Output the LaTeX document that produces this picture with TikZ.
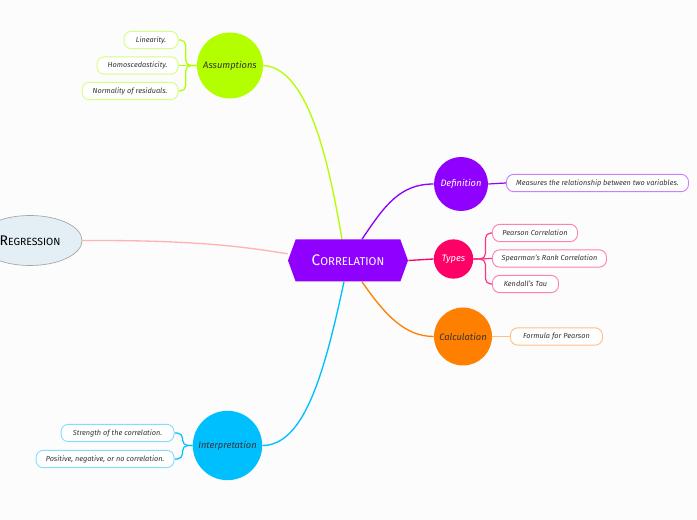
\documentclass[tikz,border=0pt]{standalone}
\usepackage{fontspec}
\setmainfont{Fira Sans}
\usetikzlibrary{shapes.symbols,shapes.geometric}
\definecolor{bgc}{HTML}{FCFCFC}
\definecolor{lime}{HTML}{B3FF00}
\definecolor{limel}{HTML}{D4FF80}
\definecolor{purp}{HTML}{8F00FF}
\definecolor{purpl}{HTML}{C880FF}
\definecolor{pinkr}{HTML}{FF0066}
\definecolor{pinkl}{HTML}{FF80B3}
\definecolor{orng}{HTML}{FF8000}
\definecolor{orngl}{HTML}{FFC080}
\definecolor{sky}{HTML}{00BFFF}
\definecolor{skyl}{HTML}{80DFFF}
\definecolor{regf}{HTML}{E3EFF5}
\definecolor{regl}{HTML}{FFB3B3}
\definecolor{txt}{HTML}{333333}
\pgfdeclarelayer{bgl}
\pgfdeclarelayer{background}
\pgfsetlayers{bgl,background,main}
\begin{document}
\begin{tikzpicture}[x=0.75pt,y=-0.75pt,
  topic/.style={circle,inner sep=0pt,font=\fontsize{7}{7.5}\selectfont\itshape},
  leaf/.style={draw,fill=white,rounded corners=5.5pt,line width=0.7pt,minimum height=13pt,inner sep=1pt,font=\fontsize{5.5}{6}\selectfont\itshape,text=txt},
  link/.style={line width=1pt},
  brk/.style={line width=0.9pt,rounded corners=4pt}]
\begin{pgfonlayer}{bgl}
\fill[bgc] (0,0) rectangle (697,520);
\end{pgfonlayer}
\useasboundingbox (0,0) rectangle (697,520);

% central
\node[signal,signal to=west and east,signal pointer angle=140,fill=purp,minimum width=90pt,minimum height=31.5pt,inner sep=0pt,text=white] (corr) at (348,260.5)
  {\fontsize{11.5}{12}\selectfont C\fontsize{8.5}{9}\selectfont ORRELATION};

% regression
\node[ellipse,draw=gray!70,line width=0.5pt,fill=regf,minimum width=78pt,minimum height=37.5pt,inner sep=0pt] (reg) at (30,240.5)
  {\fontsize{10.5}{11}\selectfont R\fontsize{7.8}{8}\selectfont EGRESSION};

% topics
\node[topic,fill=lime,minimum size=49.5pt,text=txt] (asm) at (230,65.5) {Assumptions};
\node[topic,fill=purp,minimum size=40.5pt,text=white] (def) at (461,184) {Definition};
\node[topic,fill=pinkr,minimum size=29.5pt,text=white] (typ) at (453.5,259) {Types};
\node[topic,fill=orng,minimum size=43.5pt,text=txt] (calc) at (463,336.5) {Calculation};
\node[topic,fill=sky,minimum size=52pt,text=txt] (intp) at (227.5,445.5) {Interpretation};

% leaves
\node[leaf,draw=limel,anchor=east,minimum width=40.5pt] (lin) at (178.5,40) {Linearity.};
\node[leaf,draw=limel,anchor=east,minimum width=60.75pt] (hom) at (178.5,65.5) {Homoscedasticity.};
\node[leaf,draw=limel,anchor=east,minimum width=72pt] (nor) at (178.5,91) {Normality of residuals.};
\node[leaf,draw=purpl,anchor=west,minimum width=136.5pt] (defc) at (506,183) {Measures the relationship between two variables.};
\node[leaf,draw=pinkl,anchor=west,minimum width=63.75pt] (pear) at (492,233) {Pearson Correlation};
\node[leaf,draw=pinkl,anchor=west,minimum width=85.5pt] (spear) at (492,258.5) {Spearman's Rank Correlation};
\node[leaf,draw=pinkl,anchor=west,minimum width=49.5pt] (kend) at (492,284) {Kendall's Tau};
\node[leaf,draw=orngl,anchor=west,minimum width=69pt] (form) at (510,336.5) {Formula for Pearson};
\node[leaf,draw=skyl,anchor=east,minimum width=84.75pt] (str) at (174.5,433) {Strength of the correlation.};
\node[leaf,draw=skyl,anchor=east,minimum width=103.5pt] (pos) at (174.5,459) {Positive, negative, or no correlation.};

\begin{pgfonlayer}{background}
% main connectors
\draw[link,color=regl] (reg.east) .. controls (190,240) and (240,246) .. ([yshift=5pt]corr.west);
\draw[link,color=lime] ([xshift=-4.5pt]corr.north) .. controls (330,170) and (310,68) .. (asm.east);
\draw[link,color=purp] ([xshift=10.5pt]corr.north) .. controls (385,205) and (400,184) .. (def.west);
\draw[link,color=pinkr] (corr.east) -- (typ.west);
\draw[link,color=orng] ([xshift=10.5pt]corr.south) .. controls (385,315) and (405,336.5) .. (calc.west);
\draw[link,color=sky] ([xshift=-3pt]corr.south) .. controls (325,370) and (305,445.5) .. (intp.east);
% leaf connectors
\draw[brk,color=lime] (asm.west) -- ++(-11,0) |- (lin.east);
\draw[brk,color=lime] (asm.west) -- (hom.east);
\draw[brk,color=lime] (asm.west) -- ++(-11,0) |- (nor.east);
\draw[brk,color=purp] (def.east) -- (defc.west);
\draw[brk,color=pinkr!80] (typ.east) -- ++(12,0) |- (pear.west);
\draw[brk,color=pinkr!80] (typ.east) -- (spear.west);
\draw[brk,color=pinkr!80] (typ.east) -- ++(12,0) |- (kend.west);
\draw[brk,color=orngl] (calc.east) -- (form.west);
\draw[brk,color=sky] (intp.west) -- ++(-10,0) |- (str.east);
\draw[brk,color=sky] (intp.west) -- ++(-10,0) |- (pos.east);
\end{pgfonlayer}
\end{tikzpicture}
\end{document}
